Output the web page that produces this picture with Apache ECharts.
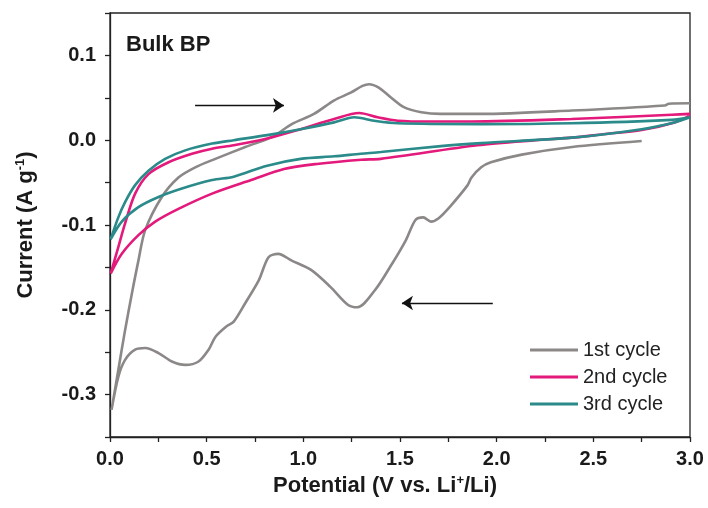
<!DOCTYPE html>
<html>
<head>
<meta charset="utf-8">
<script src="https://cdn.jsdelivr.net/npm/echarts@6/dist/echarts.min.js"></script>
<style>
  html, body { margin: 0; padding: 0; background: #fff; }
  #chart { width: 708px; height: 508px; }
</style>
</head>
<body>
<div id="chart"></div>
<script>
// Cyclic voltammetry of bulk BP, potential (V) vs current (A/g), points in sweep order
const cycle1 = [
  [2.75, -0.001], [2.39, -0.008], [2.13, -0.017], [1.97, -0.026], [1.92, -0.032],
  [1.87, -0.044], [1.85, -0.053], [1.76, -0.078], [1.70, -0.092], [1.66, -0.096],
  [1.62, -0.091], [1.58, -0.094], [1.53, -0.118], [1.45, -0.149], [1.37, -0.177],
  [1.28, -0.197], [1.23, -0.194], [1.14, -0.173], [1.04, -0.153], [0.94, -0.142],
  [0.87, -0.134], [0.82, -0.138], [0.77, -0.165], [0.70, -0.192], [0.64, -0.214],
  [0.60, -0.220], [0.545, -0.232], [0.51, -0.247], [0.458, -0.261], [0.389, -0.265],
  [0.32, -0.261], [0.251, -0.251], [0.182, -0.245], [0.13, -0.247], [0.078, -0.259],
  [0.043, -0.279], [0.008, -0.318],
  [0.043, -0.271], [0.078, -0.224], [0.113, -0.181], [0.147, -0.142], [0.182, -0.106],
  [0.268, -0.067], [0.354, -0.044], [0.441, -0.032], [0.545, -0.022], [0.70, -0.008],
  [0.84, 0.004], [0.94, 0.019], [1.055, 0.031], [1.16, 0.047], [1.245, 0.056],
  [1.306, 0.064], [1.34, 0.066], [1.39, 0.062], [1.45, 0.051], [1.52, 0.039],
  [1.61, 0.033], [1.71, 0.031], [1.92, 0.031], [2.39, 0.035], [2.87, 0.041],
  [2.89, 0.043], [3.0, 0.0435]
];
const cycle2 = [
  [3.0, 0.029], [2.92, 0.021], [2.75, 0.012], [2.55, 0.007], [2.39, 0.003],
  [2.20, 0.000], [1.90, -0.006], [1.40, -0.022], [1.30, -0.023], [1.07, -0.028],
  [0.90, -0.034], [0.73, -0.047], [0.528, -0.063], [0.354, -0.081], [0.234, -0.096],
  [0.147, -0.112], [0.061, -0.134], [0.004, -0.157],
  [0.043, -0.126], [0.078, -0.098], [0.130, -0.063], [0.199, -0.040], [0.303, -0.026],
  [0.424, -0.016], [0.528, -0.010], [0.64, -0.006], [0.813, 0.002], [0.986, 0.013],
  [1.159, 0.025], [1.289, 0.032], [1.384, 0.027], [1.488, 0.023], [1.661, 0.022],
  [1.868, 0.022], [2.387, 0.025], [2.906, 0.030], [3.0, 0.031]
];
const cycle3 = [
  [3.0, 0.027], [2.92, 0.021], [2.75, 0.013], [2.387, 0.003], [1.92, -0.0035],
  [1.712, -0.007], [1.401, -0.014], [1.297, -0.016], [1.159, -0.019], [0.986, -0.022],
  [0.813, -0.030], [0.64, -0.043], [0.528, -0.047], [0.372, -0.057], [0.251, -0.067],
  [0.147, -0.079], [0.061, -0.096], [0.003, -0.117],
  [0.043, -0.091], [0.078, -0.073], [0.130, -0.053], [0.199, -0.036], [0.285, -0.022],
  [0.389, -0.012], [0.528, -0.004], [0.64, 0.000], [0.813, 0.006], [0.986, 0.013],
  [1.159, 0.021], [1.263, 0.027], [1.366, 0.023], [1.488, 0.020], [1.92, 0.019],
  [2.387, 0.020], [2.906, 0.024], [3.0, 0.027]
];
const seriesNames = ['1st cycle', '2nd cycle', '3rd cycle'];
const seriesColors = ['#8c8888', '#e3197b', '#2b8a8a'];
// sweep-direction arrows: [start, end] in data coords
const arrows = [
  [[0.44, 0.041], [0.90, 0.041]],
  [[1.98, -0.192], [1.51, -0.192]]
];

const FONT = 'Liberation Sans, Arial, sans-serif';
const chart = echarts.init(document.getElementById('chart'));

const series = [cycle1, cycle2, cycle3].map((data, i) => ({
  name: seriesNames[i],
  type: 'line',
  data,
  showSymbol: false,
  symbol: 'none',
  smooth: 0.3,
  lineStyle: { width: 2.6, color: seriesColors[i] },
  itemStyle: { color: seriesColors[i] },
  z: 2 + i
}));

series[0].markLine = {
  silent: true,
  symbol: ['none', 'arrow'],
  symbolSize: 11,
  label: { show: false },
  lineStyle: { color: '#111', width: 1.4, type: 'solid' },
  data: arrows.map(a => [{ coord: a[0] }, { coord: a[1] }])
};

chart.setOption({
  backgroundColor: '#fff',
  animation: false,
  textStyle: { fontFamily: FONT },
  grid: {
    left: 110, right: 18, top: 13, bottom: 71,
    show: true, borderColor: '#222', borderWidth: 1.3, backgroundColor: 'transparent'
  },
  legend: {
    orient: 'vertical',
    left: 525,
    top: 334,
    itemWidth: 48,
    itemHeight: 3,
    itemGap: 5,
    icon: 'rect',
    selectedMode: false,
    textStyle: { fontFamily: FONT, fontSize: 20, color: '#222', lineHeight: 22 },
    data: seriesNames
  },
  graphic: [{
    type: 'text',
    left: 126,
    top: 34,
    style: { text: 'Bulk BP', font: 'bold 22px ' + FONT, fill: '#1a1a1a' }
  }],
  xAxis: {
    type: 'value',
    min: 0, max: 3, interval: 0.25,
    name: '{a|Potential (V vs. Li}{s|+}{a|/Li)}',
    nameLocation: 'middle',
    nameGap: 36,
    nameTextStyle: {
      padding: [0, 30, 0, 0],
      rich: {
        a: { fontFamily: FONT, fontSize: 22, fontWeight: 'bold', color: '#1a1a1a', lineHeight: 24 },
        s: { fontFamily: FONT, fontSize: 13, fontWeight: 'bold', color: '#1a1a1a', verticalAlign: 'top', lineHeight: 24 }
      }
    },
    axisLine: { onZero: false, lineStyle: { color: '#222', width: 1.3 } },
    axisTick: { inside: false, length: 5, lineStyle: { color: '#222', width: 1.3 } },
    splitLine: { show: false },
    axisLabel: {
      margin: 12,
      fontFamily: FONT, fontSize: 20, fontWeight: 'bold', color: '#1a1a1a',
      formatter: v => (Math.abs(v * 2 - Math.round(v * 2)) < 1e-6 ? v.toFixed(1) : '')
    }
  },
  yAxis: {
    type: 'value',
    min: -0.35, max: 0.15, interval: 0.05,
    name: '{a|Current (A g}{s|-1}{a|)}',
    nameLocation: 'middle',
    nameGap: 72,
    nameRotate: 90,
    nameTextStyle: {
      rich: {
        a: { fontFamily: FONT, fontSize: 22, fontWeight: 'bold', color: '#1a1a1a', lineHeight: 24 },
        s: { fontFamily: FONT, fontSize: 13, fontWeight: 'bold', color: '#1a1a1a', verticalAlign: 'top', lineHeight: 24 }
      }
    },
    axisLine: { show: true, onZero: false, lineStyle: { color: '#222', width: 1.3 } },
    axisTick: { show: true, inside: false, length: 5, lineStyle: { color: '#222', width: 1.3 } },
    splitLine: { show: false },
    axisLabel: {
      margin: 14,
      fontFamily: FONT, fontSize: 20, fontWeight: 'bold', color: '#1a1a1a',
      formatter: v => (Math.abs(v * 10 - Math.round(v * 10)) < 1e-6 ? v.toFixed(1) : '')
    }
  },
  series
});
</script>
</body>
</html>
